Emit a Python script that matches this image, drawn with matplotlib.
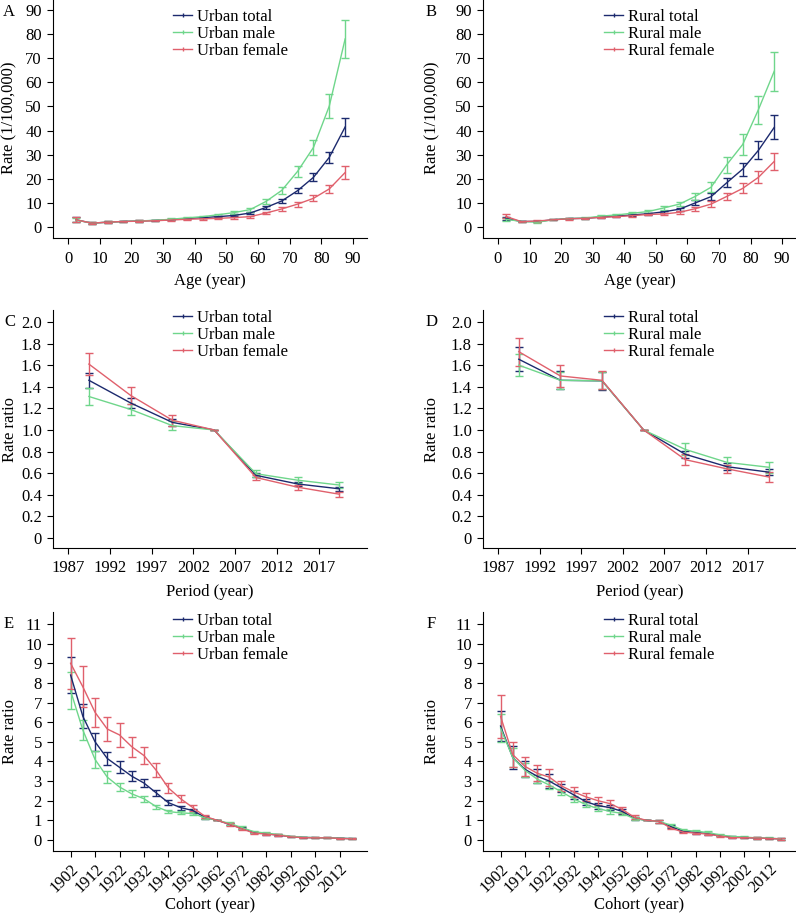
import numpy as np
import matplotlib
matplotlib.use('Agg')
import matplotlib.pyplot as plt
from matplotlib.lines import Line2D
from matplotlib.ticker import FuncFormatter

plt.rcParams['font.family'] = ['Liberation Serif', 'DejaVu Serif']
plt.rcParams['font.size'] = 12

# ---- data ----
ages = [2.5, 7.5, 12.5, 17.5, 22.5, 27.5, 32.5, 37.5, 42.5, 47.5,
        52.5, 57.5, 62.5, 67.5, 72.5, 77.5, 82.5, 87.5]
periods = [1989.5, 1994.5, 1999.5, 2004.5, 2009.5, 2014.5, 2019.5]
cohorts = [1902, 1907, 1912, 1917, 1922, 1927, 1932, 1937, 1942, 1947, 1952, 1957,
           1962, 1967, 1972, 1977, 1982, 1987, 1992, 1997, 2002, 2007, 2012, 2017]

# age effect, rate per 100,000 (value, half CI)
urban_total_age = [3.0, 1.6, 2.0, 2.3, 2.5, 2.7, 3.0, 3.5, 3.9, 4.3, 4.8, 5.8, 8.1, 10.8, 15.1, 20.6, 28.9, 41.5]
urban_total_age_err = [1.0, 0.3, 0.3, 0.3, 0.3, 0.3, 0.3, 0.3, 0.3, 0.3, 0.4, 0.5, 0.7, 0.9, 1.2, 1.6, 2.3, 3.6]
urban_male_age = [2.9, 1.6, 2.0, 2.3, 2.5, 2.8, 3.2, 3.8, 4.3, 5.1, 6.0, 7.2, 10.6, 15.2, 23.1, 33.0, 50.2, 78.0]
urban_male_age_err = [1.0, 0.3, 0.3, 0.3, 0.3, 0.3, 0.4, 0.4, 0.4, 0.5, 0.6, 0.8, 1.0, 1.4, 2.2, 3.2, 4.9, 7.8]
urban_female_age = [3.0, 1.6, 2.0, 2.3, 2.4, 2.6, 2.9, 3.2, 3.4, 3.6, 3.9, 4.3, 5.8, 7.5, 9.5, 11.9, 15.8, 22.6]
urban_female_age_err = [1.0, 0.3, 0.3, 0.3, 0.3, 0.3, 0.3, 0.3, 0.3, 0.3, 0.4, 0.4, 0.6, 0.8, 1.0, 1.3, 1.7, 2.7]

rural_total_age = [3.5, 2.3, 2.3, 3.0, 3.5, 3.6, 4.1, 4.5, 5.0, 5.5, 6.3, 7.4, 10.0, 12.6, 18.4, 24.0, 31.8, 41.3]
rural_total_age_err = [0.8, 0.3, 0.3, 0.3, 0.3, 0.3, 0.3, 0.3, 0.4, 0.4, 0.5, 0.6, 1.0, 1.4, 1.8, 2.7, 3.8, 5.0]
rural_male_age = [3.2, 2.3, 2.0, 3.0, 3.5, 3.7, 4.5, 5.0, 5.7, 6.4, 7.9, 9.5, 12.7, 16.5, 25.9, 34.2, 48.7, 64.6]
rural_male_age_err = [0.6, 0.3, 0.3, 0.3, 0.3, 0.3, 0.4, 0.4, 0.5, 0.6, 0.7, 0.9, 1.5, 2.1, 3.3, 4.3, 5.8, 8.1]
rural_female_age = [4.4, 2.2, 2.5, 3.0, 3.4, 3.6, 4.0, 4.3, 4.7, 5.2, 5.4, 6.1, 7.6, 9.5, 12.7, 16.0, 20.6, 27.2]
rural_female_age_err = [0.8, 0.3, 0.3, 0.3, 0.3, 0.3, 0.3, 0.3, 0.4, 0.4, 0.5, 0.6, 0.8, 1.2, 1.5, 2.1, 2.5, 3.6]

# period effect, rate ratio
urban_total_per = [1.46, 1.25, 1.07, 1.0, 0.58, 0.50, 0.455]
urban_total_per_err = [0.07, 0.05, 0.03, 0.0, 0.02, 0.02, 0.02]
urban_male_per = [1.31, 1.19, 1.04, 1.0, 0.595, 0.535, 0.49]
urban_male_per_err = [0.075, 0.05, 0.04, 0.0, 0.03, 0.03, 0.03]
urban_female_per = [1.61, 1.32, 1.09, 1.0, 0.56, 0.47, 0.405]
urban_female_per_err = [0.10, 0.08, 0.05, 0.0, 0.02, 0.025, 0.025]

rural_total_per = [1.655, 1.46, 1.455, 1.0, 0.775, 0.66, 0.61]
rural_total_per_err = [0.11, 0.085, 0.085, 0.0, 0.03, 0.03, 0.03]
rural_male_per = [1.60, 1.46, 1.455, 1.0, 0.82, 0.70, 0.655]
rural_male_per_err = [0.10, 0.08, 0.08, 0.0, 0.055, 0.05, 0.05]
rural_female_per = [1.725, 1.50, 1.46, 1.0, 0.725, 0.64, 0.565]
rural_female_per_err = [0.13, 0.10, 0.085, 0.0, 0.05, 0.04, 0.05]

# cohort effect, rate ratio
urban_total_coh = [8.4, 6.3, 5.0, 4.15, 3.7, 3.25, 2.9, 2.4, 1.9, 1.65, 1.5, 1.15,
                   1.0, 0.8, 0.6, 0.38, 0.32, 0.25, 0.17, 0.13, 0.12, 0.11, 0.09, 0.07]
urban_total_coh_err = [0.9, 0.6, 0.45, 0.35, 0.3, 0.25, 0.22, 0.15, 0.12, 0.1, 0.1, 0.07,
                       0.0, 0.06, 0.05, 0.04, 0.04, 0.04, 0.03, 0.03, 0.03, 0.03, 0.03, 0.03]
urban_male_coh = [7.6, 5.6, 4.1, 3.2, 2.7, 2.35, 2.1, 1.7, 1.45, 1.38, 1.35, 1.13,
                  1.0, 0.85, 0.63, 0.42, 0.35, 0.28, 0.18, 0.14, 0.12, 0.11, 0.09, 0.07]
urban_male_coh_err = [0.95, 0.5, 0.45, 0.32, 0.2, 0.18, 0.15, 0.1, 0.08, 0.08, 0.08, 0.06,
                      0.0, 0.07, 0.06, 0.05, 0.05, 0.05, 0.04, 0.03, 0.03, 0.03, 0.03, 0.03]
urban_female_coh = [9.0, 7.8, 6.5, 5.65, 5.35, 4.75, 4.3, 3.55, 2.65, 2.1, 1.65, 1.2,
                    1.0, 0.8, 0.57, 0.35, 0.3, 0.25, 0.16, 0.12, 0.11, 0.11, 0.08, 0.06]
urban_female_coh_err = [1.3, 1.05, 0.75, 0.6, 0.6, 0.5, 0.42, 0.35, 0.25, 0.18, 0.15, 0.08,
                        0.0, 0.07, 0.06, 0.05, 0.05, 0.04, 0.03, 0.03, 0.03, 0.03, 0.03, 0.03]

rural_total_coh = [5.8, 4.2, 3.6, 3.25, 3.0, 2.65, 2.3, 1.95, 1.75, 1.65, 1.45, 1.1,
                   1.0, 0.95, 0.68, 0.45, 0.38, 0.33, 0.22, 0.15, 0.13, 0.10, 0.08, 0.06]
rural_total_coh_err = [0.75, 0.57, 0.4, 0.36, 0.37, 0.22, 0.2, 0.15, 0.15, 0.13, 0.12, 0.08,
                       0.0, 0.08, 0.06, 0.05, 0.05, 0.05, 0.04, 0.04, 0.04, 0.04, 0.04, 0.04]
rural_male_coh = [5.7, 4.2, 3.55, 3.1, 2.8, 2.45, 2.1, 1.8, 1.6, 1.45, 1.35, 1.08,
                  1.0, 0.95, 0.75, 0.5, 0.45, 0.38, 0.26, 0.18, 0.15, 0.11, 0.09, 0.06]
rural_male_coh_err = [0.72, 0.5, 0.35, 0.2, 0.2, 0.17, 0.15, 0.13, 0.12, 0.12, 0.1, 0.07,
                      0.0, 0.08, 0.07, 0.06, 0.06, 0.06, 0.05, 0.04, 0.04, 0.04, 0.04, 0.04]
rural_female_coh = [6.3, 4.35, 3.75, 3.4, 3.2, 2.75, 2.45, 2.2, 2.0, 1.85, 1.55, 1.15,
                    1.0, 0.95, 0.6, 0.4, 0.35, 0.3, 0.2, 0.12, 0.12, 0.1, 0.08, 0.05]
rural_female_coh_err = [1.1, 0.62, 0.5, 0.42, 0.44, 0.25, 0.25, 0.2, 0.2, 0.18, 0.15, 0.1,
                        0.0, 0.08, 0.06, 0.05, 0.05, 0.05, 0.04, 0.04, 0.04, 0.04, 0.04, 0.04]

colors = ['#1c2a6e', '#6fd68b', '#e0606c']

W, H = 796, 914
fig = plt.figure(figsize=(W / 100, H / 100), dpi=100)


def rect(left, top, right, bottom):
    return [left / W, 1 - bottom / H, (right - left) / W, (bottom - top) / H]


panels = [
    # letter, area, x, series, rect(px), xlim, ylim, xticks, yticks, xlabel, ylabel
    ('A', 'Urban', ages,
     [(urban_total_age, urban_total_age_err), (urban_male_age, urban_male_age_err),
      (urban_female_age, urban_female_age_err)],
     rect(53, -2, 367, 238), (-4.74, 94.4), (-4.56, 94.98),
     list(range(0, 91, 10)), list(range(0, 91, 10)), 'Age (year)', 'Rate (1/100,000)'),
    ('B', 'Rural', ages,
     [(rural_total_age, rural_total_age_err), (rural_male_age, rural_male_age_err),
      (rural_female_age, rural_female_age_err)],
     rect(483, -2, 796, 238), (-4.74, 94.4), (-4.56, 94.98),
     list(range(0, 91, 10)), list(range(0, 91, 10)), 'Age (year)', 'Rate (1/100,000)'),
    ('C', 'Urban', periods,
     [(urban_total_per, urban_total_per_err), (urban_male_per, urban_male_per_err),
      (urban_female_per, urban_female_per_err)],
     rect(53, 310, 367, 548), (1985.2, 2022.8), (-0.093, 2.111),
     list(range(1987, 2018, 5)), [i / 5 for i in range(11)], 'Period (year)', 'Rate ratio'),
    ('D', 'Rural', periods,
     [(rural_total_per, rural_total_per_err), (rural_male_per, rural_male_per_err),
      (rural_female_per, rural_female_per_err)],
     rect(483, 310, 796, 548), (1985.2, 2022.8), (-0.093, 2.111),
     list(range(1987, 2018, 5)), [i / 5 for i in range(11)], 'Period (year)', 'Rate ratio'),
    ('E', 'Urban', cohorts,
     [(urban_total_coh, urban_total_coh_err), (urban_male_coh, urban_male_coh_err),
      (urban_female_coh, urban_female_coh_err)],
     rect(53, 612, 367, 851), (1894.8, 2023.2), (-0.56, 11.61),
     list(range(1902, 2013, 10)), list(range(0, 12)), 'Cohort (year)', 'Rate ratio'),
    ('F', 'Rural', cohorts,
     [(rural_total_coh, rural_total_coh_err), (rural_male_coh, rural_male_coh_err),
      (rural_female_coh, rural_female_coh_err)],
     rect(483, 612, 796, 851), (1894.8, 2023.2), (-0.56, 11.61),
     list(range(1902, 2013, 10)), list(range(0, 12)), 'Cohort (year)', 'Rate ratio'),
]

label_px = {'A': (9, 12), 'B': (431, 12), 'C': (10, 322), 'D': (432, 322),
            'E': (9, 624), 'F': (431, 624)}

for idx, (letter, area, x, series, r, xlim, ylim, xt, yt, xl, yl) in enumerate(panels):
    ax = fig.add_axes(r)
    for (vals, err), c in zip(series, colors):
        ax.errorbar(x, vals, yerr=err, color=c, lw=1.0, elinewidth=1.0,
                    capsize=2.8, capthick=1.0)
    ax.set_xlim(*xlim)
    ax.set_ylim(*ylim)
    ax.set_xticks(xt)
    ax.set_yticks(yt)
    for s in ['top', 'right']:
        ax.spines[s].set_visible(False)
    for s in ['left', 'bottom']:
        ax.spines[s].set_linewidth(0.8)
    ax.tick_params(direction='out', length=4, width=0.8, labelsize=12)
    ax.tick_params(axis='y', pad=4)
    ax.tick_params(axis='x', pad=5)
    if letter in 'CD':
        ax.yaxis.set_major_formatter(FuncFormatter(lambda v, p: '0' if v == 0 else f'{v:.1f}'))
    if letter in 'EF':
        for lab in ax.get_xticklabels():
            lab.set_rotation(45)
            lab.set_ha('right')
            lab.set_rotation_mode('anchor')
        ax.tick_params(axis='x', pad=3)
    ax.set_xlabel(xl, fontsize=12)
    ax.set_ylabel(yl, fontsize=12)
    axh = r[3] * H
    if letter in 'AB':
        ax.xaxis.set_label_coords(0.5, -35 / axh)
    elif letter in 'CD':
        ax.xaxis.set_label_coords(0.5, -36 / axh)
    else:
        ax.xaxis.set_label_coords(0.5, -46 / axh)
    ax.yaxis.set_label_coords(-0.113 if idx % 2 == 0 else -0.137, 0.5)

    handles = [Line2D([0], [0], color=c, lw=1.0, marker='|', markersize=3, markeredgewidth=1.0)
               for c in colors]
    labels = [f'{area} total', f'{area} male', f'{area} female']
    top_px = {'A': 9, 'B': 9, 'C': 310, 'D': 310, 'E': 613, 'F': 613}[letter]
    left_px = 173 if idx % 2 == 0 else 604
    ax.legend(handles, labels, loc='upper left',
              bbox_to_anchor=(left_px / W, 1 - top_px / H), bbox_transform=fig.transFigure,
              frameon=False, fontsize=12, handlelength=1.15, handletextpad=0.3,
              borderpad=0, borderaxespad=0, labelspacing=0.05)

    lx, ly = label_px[letter]
    fig.text(lx / W, 1 - ly / H, letter, fontsize=12, ha='center', va='center')

fig.savefig('out.png', dpi=100)
